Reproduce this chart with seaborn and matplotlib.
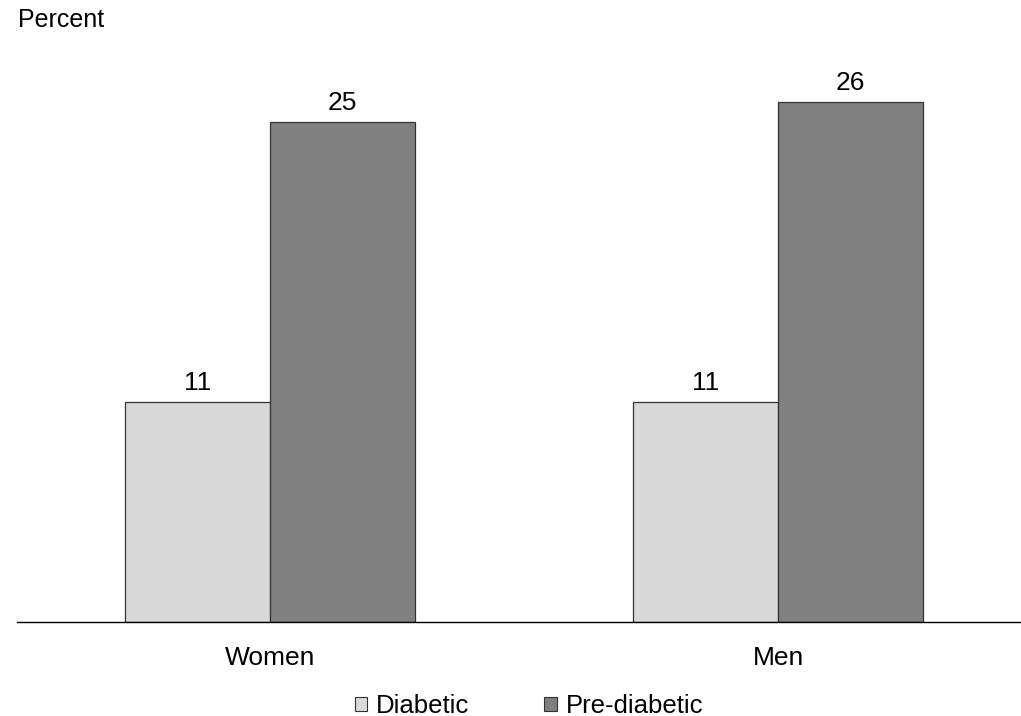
import pandas as pd
import seaborn as sns
import matplotlib.pyplot as plt

groups = ["Women", "Men"]
status = ["Diabetic", "Pre-diabetic"]
diabetic = [11, 11]
prediabetic = [25, 26]

data = pd.DataFrame({
    "group": groups * 2,
    "status": [status[0]] * 2 + [status[1]] * 2,
    "pct": diabetic + prediabetic,
})

sns.set_style("white")
plt.rcParams["font.family"] = ["Liberation Sans", "DejaVu Sans"]
plt.rcParams["text.color"] = "black"
plt.rcParams["xtick.color"] = "black"

fig = plt.figure(figsize=(10.21, 7.16), dpi=100)
ax = fig.add_axes([17 / 1021, 94 / 716, 1004 / 1021, 560 / 716])

sns.barplot(data=data, x="group", y="pct", hue="status", order=groups,
            hue_order=status, palette=["#d9d9d9", "#808080"], width=0.571,
            edgecolor="#333333", linewidth=0.9, saturation=1, ax=ax, legend=False)

for cont in ax.containers:
    ax.bar_label(cont, fmt="%d", padding=5, fontsize=19, color="black")

ax.set_xlim(-0.498, 1.478)
ax.set_ylim(0, 28)
ax.set_xlabel("")
ax.set_ylabel("")
ax.set_yticks([])
ax.tick_params(axis="x", length=0, labelsize=19, pad=17, labelcolor="black")
for s in ["top", "right", "left"]:
    ax.spines[s].set_visible(False)
ax.spines["bottom"].set_color("black")
ax.spines["bottom"].set_linewidth(1.0)

fig.text(18 / 1021, 1 - 20 / 716, "Percent", fontsize=18, va="center", ha="left",
         color="black")

handles = [plt.Rectangle((0, 0), 1, 1, facecolor=c, edgecolor="#333333", linewidth=0.8)
           for c in ["#d9d9d9", "#808080"]]
fig.legend(handles, status, loc="center", bbox_to_anchor=(529 / 1021, 1 - 706 / 716),
           ncol=2, frameon=False, fontsize=18.5, handlelength=0.5, handleheight=0.5,
           handletextpad=0.35, columnspacing=2.9)

fig.savefig("out.png", dpi=100)
